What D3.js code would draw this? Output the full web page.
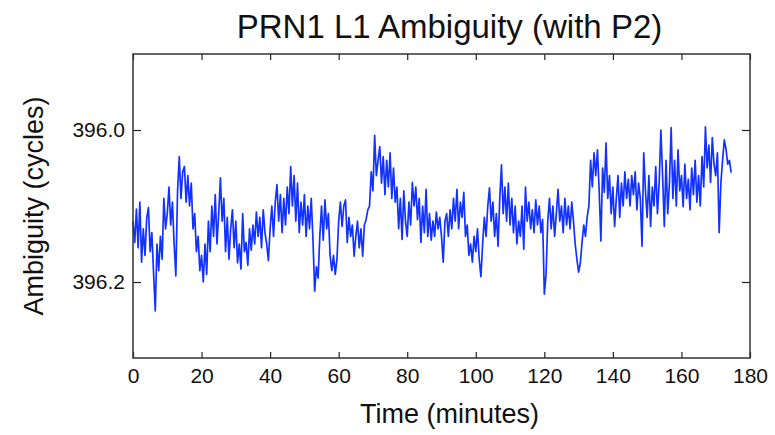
<!DOCTYPE html>
<html>
<head>
<meta charset="utf-8">
<script src="https://cdn.jsdelivr.net/npm/d3@7/dist/d3.min.js"></script>
<style>
  body { margin: 0; background: #fff; }
  text { font-family: Arial, "Liberation Sans", sans-serif; fill: #111; }
</style>
</head>
<body>
<svg id="chart" width="775" height="435"></svg>
<script>
// samples every half minute, starting at t = 0
const sampleStep = 0.5;
const ambiguity = [
  396.120,396.148,396.104,396.155,396.095,396.174,396.130,396.165,396.116,396.102,
  396.160,396.135,396.188,396.238,396.150,396.185,396.140,396.170,396.090,396.130,
  396.110,396.075,396.125,396.095,396.150,396.192,396.080,396.035,396.090,396.055,
  396.048,396.095,396.060,396.100,396.070,396.130,396.110,396.160,396.140,396.185,
  396.165,396.200,396.150,396.190,396.120,396.160,396.100,396.140,396.085,396.150,
  396.110,396.063,396.120,396.090,396.160,396.115,396.170,396.130,396.105,396.155,
  396.120,396.175,396.150,396.183,396.110,396.160,396.148,396.178,396.130,396.158,
  396.125,396.150,396.108,396.140,396.115,396.155,396.105,396.135,396.150,396.172,
  396.130,396.100,396.140,396.095,396.072,396.120,396.085,396.135,396.090,396.125,
  396.075,396.110,396.048,396.100,396.060,396.120,396.070,396.135,396.095,396.125,
  396.085,396.140,396.100,396.130,396.090,396.144,396.212,396.180,396.195,396.140,
  396.100,396.145,396.092,396.130,396.110,396.165,396.185,396.165,396.190,396.170,
  396.120,396.095,396.127,396.100,396.092,396.148,396.115,396.140,396.125,396.166,
  396.140,396.120,396.155,396.130,396.166,396.125,396.118,396.105,396.100,396.055,
  396.080,396.007,396.060,396.040,396.022,396.070,396.035,396.085,396.040,396.075,
  396.030,396.090,396.050,396.095,396.075,396.130,396.090,396.144,396.080,396.120,
  396.140,396.095,396.125,396.069,396.100,396.075,396.118,396.090,396.148,396.100,
  396.135,396.078,396.140,396.110,396.145,396.120,396.140,396.108,396.130,396.115,
  396.140,396.174,396.120,396.110,396.140,396.105,396.130,396.090,396.120,396.078,
  396.130,396.095,396.115,396.082,396.140,396.125,396.165,396.150,396.174,396.140,
  396.160,396.130,396.170,396.193,396.150,396.115,396.140,396.100,396.076,396.120,
  396.095,396.140,396.110,396.153,396.090,396.046,396.110,396.075,396.120,396.070,
  396.125,396.090,396.135,396.100,396.150,396.120,396.140,396.100,396.157,396.075,
  396.120,396.095,396.130,396.105,396.135,396.092,396.125,396.100,396.135,396.118,
  396.216,396.190,396.120,396.090,396.130,396.100,396.140,396.110,396.078,396.120,
  396.100,396.135,396.090,396.125,396.100,396.130,396.095,396.120,396.150,396.170,
  396.187,396.175,396.148,396.125,396.140,396.114,396.100,396.040,396.075,396.030,
  396.060,396.026,396.080,396.146,396.050,396.082,396.017,396.090,396.060,396.110,
  396.075,396.127,396.090,396.060,396.115,396.070,396.100,396.055,396.090,396.065,
  396.100,396.060,396.085,396.055,396.105,396.070,396.090,396.153,396.030,396.080,
  396.115,396.060,396.127,396.075,396.100,396.048,396.110,396.070,396.000,396.060,
  396.127,396.040,396.110,396.070,395.997,396.090,396.040,396.100,396.026,396.080,
  396.060,396.101,396.045,396.090,396.065,396.105,396.050,396.085,396.040,396.095,
  396.060,396.100,396.035,396.075,395.996,396.050,396.020,396.069,396.010,396.045,
  396.060,396.030,396.135,396.070,396.040,396.013,396.025,396.045,396.040,396.056
];
const xTicks = [0, 20, 40, 60, 80, 100, 120, 140, 160, 180];
const yTicks = [396.0, 396.2];

const data = ambiguity.map((v, i) => ({ t: i * sampleStep, v: v }));

const svg = d3.select("#chart");
const margin = { top: 54, right: 25, bottom: 77, left: 133 };
const width = +svg.attr("width");
const height = +svg.attr("height");

const x = d3.scaleLinear()
  .domain([0, 180])
  .range([margin.left, width - margin.right]);

// y axis runs downward: larger values lower on the plot
const y = d3.scaleLinear()
  .domain([395.9, 396.3])
  .range([margin.top, height - margin.bottom]);

const line = d3.line()
  .x(d => x(d.t))
  .y(d => y(d.v));

svg.append("path")
  .datum(data)
  .attr("fill", "none")
  .attr("stroke", "#1233ff")
  .attr("stroke-width", 1.7)
  .attr("stroke-linejoin", "round")
  .attr("d", line);

function styleAxis(g) {
  g.select(".domain").remove();
  g.selectAll(".tick line").attr("stroke", "#222").attr("stroke-width", 1.2);
  g.selectAll(".tick text").style("font-size", "21px").attr("fill", "#111");
}

// bottom / top
svg.append("g")
  .attr("transform", `translate(0,${height - margin.bottom})`)
  .call(d3.axisBottom(x).tickValues(xTicks).tickSize(-6).tickPadding(10))
  .call(styleAxis);
svg.append("g")
  .attr("transform", `translate(0,${margin.top})`)
  .call(d3.axisTop(x).tickValues(xTicks).tickSize(-6).tickFormat(""))
  .call(styleAxis);

// left / right
svg.append("g")
  .attr("transform", `translate(${margin.left},0)`)
  .call(d3.axisLeft(y).tickValues(yTicks).tickSize(-8).tickPadding(8).tickFormat(d3.format(".1f")))
  .call(styleAxis);
svg.append("g")
  .attr("transform", `translate(${width - margin.right},0)`)
  .call(d3.axisRight(y).tickValues(yTicks).tickSize(-8).tickFormat(""))
  .call(styleAxis);

// frame
svg.append("rect")
  .attr("x", margin.left)
  .attr("y", margin.top)
  .attr("width", width - margin.left - margin.right)
  .attr("height", height - margin.top - margin.bottom)
  .attr("fill", "none")
  .attr("stroke", "#333")
  .attr("stroke-width", 1.5);

svg.append("text")
  .attr("x", (margin.left + width - margin.right) / 2 + 8)
  .attr("y", 38)
  .attr("text-anchor", "middle")
  .style("font-size", "33px")
  .text("PRN1 L1 Ambiguity (with P2)");

svg.append("text")
  .attr("x", (margin.left + width - margin.right) / 2 + 8)
  .attr("y", 423)
  .attr("text-anchor", "middle")
  .style("font-size", "27px")
  .text("Time (minutes)");

svg.append("text")
  .attr("transform", `translate(43,${(margin.top + height - margin.bottom) / 2}) rotate(-90)`)
  .attr("text-anchor", "middle")
  .style("font-size", "27px")
  .text("Ambiguity (cycles)");
</script>
</body>
</html>
